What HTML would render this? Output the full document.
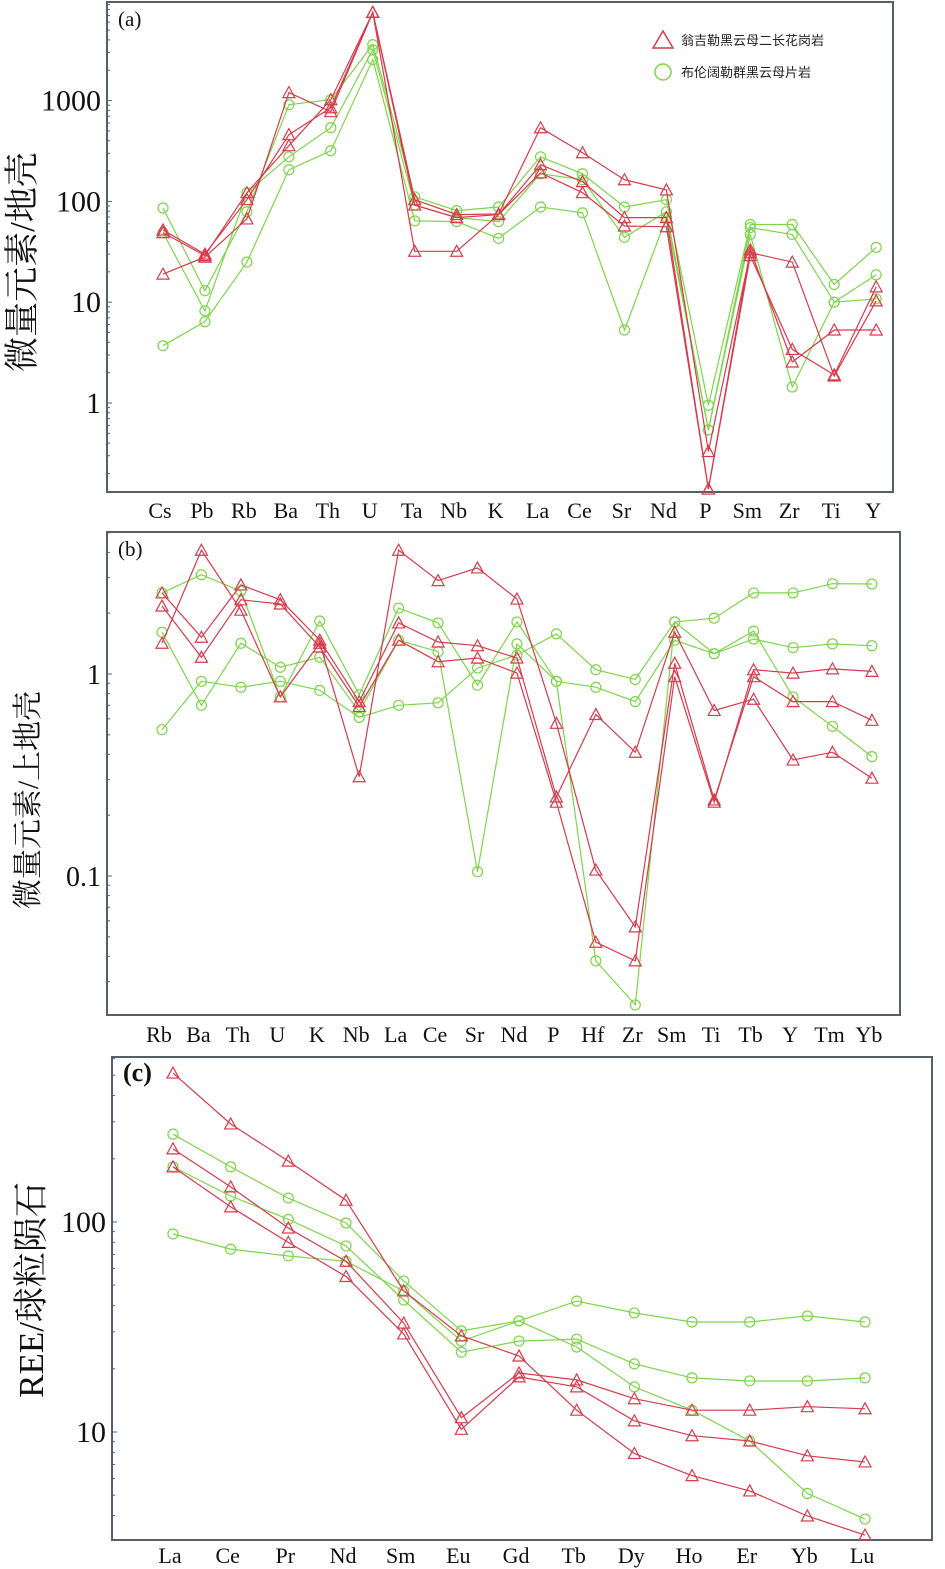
<!DOCTYPE html>
<html><head><meta charset="utf-8"><style>
html,body{margin:0;padding:0;background:#fff;}
svg{display:block;}
</style></head><body>
<svg id="chart" width="945" height="1569" xmlns="http://www.w3.org/2000/svg"></svg>
<script>
// ---- Panel (a) data ----
const catsA = ["Cs","Pb","Rb","Ba","Th","U","Ta","Nb","K","La","Ce","Sr","Nd","P","Sm","Zr","Ti","Y"];
const redA1 = [49,29,122,357,1020,7500,104,74,75,538,304,164,130,0.33,31,25,1.85,10.3];
const redA2 = [52,30,104,459,850,7500,92,69,74,231,157,69,69,0.14,29,3.4,1.9,14.2];
const redA3 = [19,28,67,1200,776,7500,32,32,74,192,122,57,56,0.14,33,2.55,5.3,5.3];
const greenA1 = [86,13,79,910,1020,3590,111,81,88,277,188,88,104,0.95,59,59,15,35];
const greenA2 = [49,8.2,122,277,538,3200,92,69,63,188,164,44,79,0.54,55,47,10,18.7];
const greenA3 = [3.7,6.4,25,206,318,2550,64,63,43,88,77,5.3,69,0.54,47,1.44,10,10.8];
const ticksA = ["1","10","100","1000"];
const tickValsA = [1,10,100,1000];

// ---- Panel (b) data ----
const catsB = ["Rb","Ba","Th","U","K","Nb","La","Ce","Sr","Nd","P","Hf","Zr","Sm","Ti","Tb","Y","Tm","Yb"];
const redB1 = [1.42,4.1,2.07,0.77,1.42,0.31,4.1,2.9,3.35,2.35,0.57,0.107,0.056,1.13,0.238,0.97,0.73,0.73,0.59];
const redB2 = [2.52,1.52,2.76,2.33,1.47,0.73,1.79,1.44,1.38,1.2,0.246,0.63,0.41,1.61,0.66,0.75,0.375,0.41,0.305];
const redB3 = [2.17,1.21,2.33,2.22,1.36,0.69,1.47,1.15,1.2,1.01,0.232,0.047,0.038,0.97,0.232,1.05,1.01,1.06,1.03];
const greenB1 = [2.52,3.1,2.57,0.77,1.83,0.79,2.12,1.79,0.88,1.81,0.92,0.038,0.023,1.81,1.26,1.63,0.77,0.55,0.39];
const greenB2 = [1.61,0.70,1.42,1.08,1.21,0.65,1.47,1.29,0.105,1.41,0.92,0.86,0.73,1.47,1.26,1.49,1.35,1.41,1.38];
const greenB3 = [0.53,0.92,0.86,0.92,0.83,0.61,0.70,0.72,1.07,1.24,1.58,1.05,0.94,1.81,1.89,2.52,2.52,2.8,2.79];
const ticksB = ["0.1","1"];
const tickValsB = [0.1,1];

// ---- Panel (c) data ----
const catsC = ["La","Ce","Pr","Nd","Sm","Eu","Gd","Tb","Dy","Ho","Er","Yb","Lu"];
const redC1 = [512,293,195,127,47,28.7,23,12.7,7.9,6.2,5.24,3.98,3.23];
const redC2 = [223,147,93.6,65,33,11.7,19.1,17.7,14.4,12.7,12.7,13.2,12.9];
const redC3 = [183,118,80,55,29.3,10.3,18.3,16.4,11.3,9.6,9.06,7.7,7.2];
const greenC1 = [262,183,130,98.9,52.4,30.3,33.8,42,36.9,33.4,33.4,35.7,33.4];
const greenC2 = [183,133,103,76.9,42.5,24,27.1,27.7,21.1,18.1,17.5,17.5,18.1];
const greenC3 = [87.7,74.3,68.9,65,47,27.1,33.8,25.4,16.4,12.7,9.06,5.1,3.85];
const ticksC = ["10","100"];
const tickValsC = [10,100];

const RED = "#d93a4c", GREEN = "#7dd64a", AX = "#56606a";
const NS = "http://www.w3.org/2000/svg";
const svg = document.getElementById("chart");
function mk(tag, attrs, parent){ const e=document.createElementNS(NS,tag); for(const k in attrs) e.setAttribute(k,attrs[k]); (parent||svg).appendChild(e); return e; }

const panels = [
 {key:"a", box:[107,2,893,492], x0:163, dx:41.95, y1:403, dec:100.8, cats:catsA,
  reds:[redA1,redA2,redA3], greens:[greenA1,greenA2,greenA3], ticks:ticksA, tv:tickValsA,
  lo:0.13, hi:9600, labY:518, title:"微量元素/地壳", tx:26, ty:262, tfs:35, tag:"(a)"},
 {key:"b", box:[107,532,900,1015], x0:162, dx:39.44, y1:674, dec:202, cats:catsB,
  reds:[redB1,redB2,redB3], greens:[greenB1,greenB2,greenB3], ticks:ticksB, tv:tickValsB,
  lo:0.0205, hi:5.05, labY:1042, title:"微量元素/上地壳", tx:31, ty:800, tfs:30, tag:"(b)"},
 {key:"c", box:[112,1057,932,1540], x0:173, dx:57.67, y1:1642, dec:210, cats:catsC,
  reds:[redC1,redC2,redC3], greens:[greenC1,greenC2,greenC3], ticks:ticksC, tv:tickValsC,
  lo:3.06, hi:611, labY:1563, title:"REE/球粒陨石", tx:35, ty:1290, tfs:35, tag:"(c)"}
];

panels.forEach(p=>{
  const g = mk("g",{});
  
  
  const [L,T,R,B]=p.box;
  const xs = i => p.x0 + i*p.dx;
  const ys = v => p.y1 - p.dec*Math.log10(v);
  const frame = mk("rect",{x:L,y:T,width:R-L,height:B-T,fill:"none",stroke:AX,"stroke-width":2},g);
  
  
  for(let e=-3;e<5;e++){ for(let m=1;m<10;m++){ const v=m*Math.pow(10,e); if(v<p.lo||v>p.hi) continue;
    const y=ys(v); mk("line",{x1:L,x2:L+(m==1?5:3),y1:y,y2:y,stroke:AX,"stroke-width":1},g);} }
  p.ticks.forEach((t,i)=>{
    const el = mk("text",{x:L-6,y:ys(p.tv[i])+10,"text-anchor":"end","font-family":"Liberation Serif, serif","font-size":p.key=="b"?28:30,fill:"#111"},g);
    el.textContent=t;
    
    
  });
  p.cats.forEach((c,i)=>{
    const el = mk("text",{x:xs(i)-3,y:p.labY,"text-anchor":"middle","font-family":"Liberation Serif, serif","font-size":22,fill:"#111"},g);
    el.textContent=c;
    
    
  });
  const tt = mk("text",{x:p.tx,y:p.ty,"text-anchor":"middle","font-family":"Liberation Serif, Noto Serif CJK SC, serif","font-size":p.tfs,fill:"#111",transform:`rotate(-90 ${p.tx} ${p.ty})`,"dominant-baseline":"middle"},g);
  tt.textContent=p.title;
  
  
  const tag = mk("text",{x:L+11,y:T+24,"font-family":"Liberation Serif, serif","font-size":p.key=="c"?26:21,"font-weight":p.key=="c"?"bold":"normal",fill:"#111"},g);
  tag.textContent=p.tag;
  
  
  function series(arr, color, kind, idx){
    const sg = mk("g",{},g);
    
    
    const pts = arr.map((v,i)=>xs(i).toFixed(1)+","+ys(v).toFixed(1)).join(" ");
    mk("polyline",{points:pts,fill:"none",stroke:color,"stroke-width":1.2},sg);
    arr.forEach((v,i)=>{
      const x=xs(i), y=ys(v);
      let m;
      if(kind=="tri") m = mk("polygon",{points:`${x},${y-6} ${x-6},${y+5} ${x+6},${y+5}`,fill:"none",stroke:color,"stroke-width":1.2},sg);
      else m = mk("circle",{cx:x,cy:y,r:5,fill:"none",stroke:color,"stroke-width":1.2},sg);
      
      
    });
  }
  p.greens.forEach((a,i)=>series(a,GREEN,"circ",i+1));
  p.reds.forEach((a,i)=>series(a,RED,"tri",i+1));
});

const lg = mk("g",{});


const l1 = mk("g",{},lg);


mk("polygon",{points:"663,31 653,48 673,48",fill:"none",stroke:RED,"stroke-width":1.5},l1);
const t1 = mk("text",{x:681,y:45,"font-family":"Noto Sans CJK SC, sans-serif","font-size":13,fill:"#222"},l1);
t1.textContent="翁吉勒黑云母二长花岗岩";
const l2 = mk("g",{},lg);


mk("circle",{cx:663,cy:72,r:8,fill:"none",stroke:GREEN,"stroke-width":1.5},l2);
const t2 = mk("text",{x:681,y:77,"font-family":"Noto Sans CJK SC, sans-serif","font-size":13,fill:"#222"},l2);
t2.textContent="布伦阔勒群黑云母片岩";
</script>
</body></html>
